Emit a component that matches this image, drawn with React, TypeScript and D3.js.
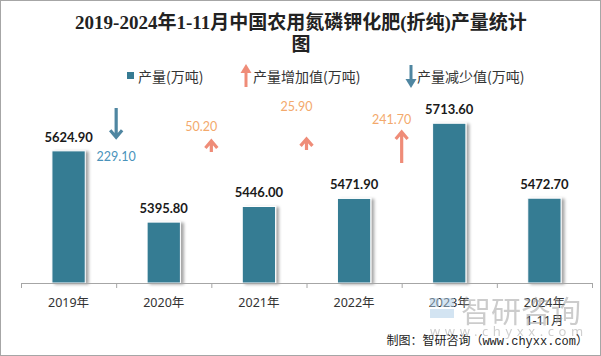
import React, { useEffect } from "react";
import * as d3 from "d3";

// ---- data ----
const categories = ["2019年", "2020年", "2021年", "2022年", "2023年", "2024年1-11月"];
const categoryLabelLines = [["2019年"], ["2020年"], ["2021年"], ["2022年"], ["2023年"], ["2024年", "1-11月"]];
const production = [5624.9, 5395.8, 5446.0, 5471.9, 5713.6, 5472.7];
const changeCategories = ["2020年", "2021年", "2022年", "2023年"];
const changeValues = [-229.1, 50.2, 25.9, 241.7];
// level (in production units) where each change arrow starts, and where its label sits
const arrowBaseLevel = [5763, 5621, 5628, 5586];
const changeLabelLevel = [5608, 5702, 5766, 5727];
const yDomain = [5200, 5800];

const titleLines = ["2019-2024年1-11月中国农用氮磷钾化肥(折纯)产量统计", "图"];
const legendLabels = ["产量(万吨)", "产量增加值(万吨)", "产量减少值(万吨)"];
const sourceText = "制图：智研咨询（www.chyxx.com）";

const W = 601;
const H = 356;
const BAR = "#367b93";
const UP = "#ef8c78";
const DOWN = "#4f86a1";
const UP_TXT = "#f3a96c";
const DOWN_TXT = "#4a93bb";

export default function App() {
  useEffect(() => {
    document.body.style.margin = "0";
  }, []);

  const x = d3.scaleBand<string>().domain(categories).range([21, 592]).padding(0);
  const y = d3.scaleLinear().domain(yDomain).range([283, 96.4]);
  const len = d3.scaleLinear().domain([0, 241.7]).range([0, 31]);
  const bw = x.bandwidth();
  const barW = bw * 0.35;
  const base = y(yDomain[0]);

  const arrowPath = (cx: number, y0: number, y1: number, head: number) => {
    const dir = y1 > y0 ? 1 : -1;
    return `M${cx},${y0}L${cx},${y1}M${cx - head * 0.85},${y1 - dir * head}L${cx},${y1}L${cx + head * 0.85},${y1 - dir * head}`;
  };

  const sans = "'Noto Sans', 'Noto Sans CJK SC', sans-serif";

  return (
    <svg width={W} height={H} style={{ position: "absolute", left: 0, top: 0, display: "block" }}>
      <defs>
        <filter id="sh" x="-30%" y="-10%" width="160%" height="120%">
          <feDropShadow dx="3" dy="1" stdDeviation="1.6" floodColor="#000" floodOpacity="0.35" />
        </filter>
      </defs>
      <rect x={0.5} y={0.5} width={W - 1} height={H - 1} fill="#fff" stroke="#a6a6a6" />

      {/* title */}
      {titleLines.map((t, i) => (
        <text key={i} x={301} y={22 + i * 22} textAnchor="middle" dominantBaseline="central"
          fontFamily="'Liberation Serif', 'Noto Sans CJK SC', serif" fontWeight="bold" fontSize={19} fill="#222">
          {t}
        </text>
      ))}

      {/* legend */}
      <g fontFamily="'Noto Sans CJK SC', sans-serif" fontSize={14} fill="#333">
        <rect x={127} y={72} width={7} height={7} fill={BAR} />
        <text x={138} y={76} dominantBaseline="central">{legendLabels[0]}</text>
        <path d={`M246,87L246,71`} stroke={UP} strokeWidth={3} />
        <path d={`M240.5,73L246,64L251.5,73Z`} fill={UP} />
        <text x={253} y={76} dominantBaseline="central">{legendLabels[1]}</text>
        <path d={`M411,65L411,81`} stroke={DOWN} strokeWidth={3} />
        <path d={`M405.5,79L411,88L416.5,79Z`} fill={DOWN} />
        <text x={417} y={76} dominantBaseline="central">{legendLabels[2]}</text>
      </g>

      {/* bars */}
      {categories.map((c, i) => (
        <rect key={c} x={(x(c) as number) + (bw - barW) / 2} y={y(production[i])} width={barW}
          height={base - y(production[i])} fill={BAR} stroke="#fff" strokeWidth={1} filter="url(#sh)" />
      ))}
      {categories.map((c, i) => (
        <text key={"v" + c} x={(x(c) as number) + bw / 2} y={y(production[i]) - 9} textAnchor="middle"
          fontFamily="Lato, 'Liberation Sans', sans-serif" fontWeight="bold" fontSize={13} fill="#1a1a1a">
          {production[i].toFixed(2)}
        </text>
      ))}

      {/* change arrows */}
      {changeCategories.map((c, i) => {
        const cx = x(c) as number;
        const v = changeValues[i];
        const L = Math.max(len(Math.abs(v)), 11);
        const y0 = y(arrowBaseLevel[i]);
        const y1 = v < 0 ? y0 + L : y0 - L;
        return (
          <g key={"a" + c}>
            <path d={arrowPath(cx, y0, y1, 7)} fill="none" stroke={v < 0 ? DOWN : UP} strokeWidth={3.2} />
            <text x={v < 0 ? cx : cx - 10} y={y(changeLabelLevel[i])} textAnchor="middle" dominantBaseline="central"
              fontFamily="Lato, 'Liberation Sans', sans-serif" fontSize={12.5} fill={v < 0 ? DOWN_TXT : UP_TXT}>
              {Math.abs(v).toFixed(2)}
            </text>
          </g>
        );
      })}

      {/* x axis */}
      <g stroke="#a6a6a6" strokeWidth={1}>
        <line x1={21} x2={592} y1={base + 0.5} y2={base + 0.5} />
        {categories.map((c) => (
          <line key={"t" + c} x1={(x(c) as number) + 0.5} x2={(x(c) as number) + 0.5} y1={base} y2={base + 5} />
        ))}
        <line x1={592.5} x2={592.5} y1={base} y2={base + 5} />
      </g>
      {categories.map((c, i) => (
        <text key={"l" + c} x={(x(c) as number) + bw / 2} y={302} textAnchor="middle"
          fontFamily={sans} fontSize={12.5} fill="#333">
          {categoryLabelLines[i].map((ln, j) => (
            <tspan key={j} x={(x(c) as number) + bw / 2} dy={j === 0 ? 0 : 18} dominantBaseline="central">{ln}</tspan>
          ))}
        </text>
      ))}

      {/* watermark */}
      <g opacity={0.5}>
        <rect x={430} y={298} width={9} height={9} fill="#a9cbe6" />
        <rect x={441} y={298} width={13} height={9} fill="#a9cbe6" />
        <rect x={430} y={309} width={24} height={9} fill="#a9cbe6" />
        <text x={461} y={309} dominantBaseline="central" fontFamily="'Noto Sans CJK SC', sans-serif" fontSize={30}
          fill="#9a9a9a">智研咨询</text>
        <text x={430} y={331} dominantBaseline="central" fontFamily={sans} fontSize={13} fill="#a0a0a0"
          letterSpacing={4.6}>www.chyxx.com</text>
      </g>

      <text x={588} y={342} textAnchor="end" dominantBaseline="central"
        fontFamily="'Liberation Mono', 'Noto Sans CJK SC', monospace" fontSize={12} fill="#222">
        {sourceText}
      </text>
    </svg>
  );
}
